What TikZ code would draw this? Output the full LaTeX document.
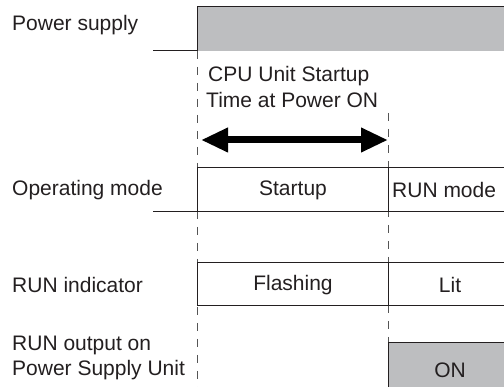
\documentclass[tikz,border=0pt]{standalone}
\usepackage{fontspec}
\setmainfont{Liberation Sans}
\usetikzlibrary{arrows.meta}
\definecolor{lineblk}{HTML}{231F20}
\definecolor{dashgray}{HTML}{555555}
\definecolor{sigfill}{HTML}{BDBEC0}
\tikzset{
  lbl/.style={anchor=west, inner sep=0pt, font=\fontsize{21}{25}\selectfont, text=lineblk},
  ctr/.style={inner sep=0pt, font=\fontsize{21}{25}\selectfont, text=lineblk},
  sig/.style={draw=lineblk, line width=1pt},
  guide/.style={draw=dashgray, line width=1pt, dash pattern=on 8pt off 8pt},
  span/.style={draw=black, line width=7pt, {Triangle[length=27pt,width=23pt]}-{Triangle[length=27pt,width=23pt]}}
}
\begin{document}
\begin{tikzpicture}[x=1pt,y=-1pt]
\useasboundingbox (0,0) rectangle (504,387);
% coordinates
\coordinate (L0) at (197,51);
\coordinate (L1) at (197,387);
\coordinate (R0) at (388,113);
\coordinate (R1) at (388,387);
\coordinate (A0) at (201,140);
\coordinate (A1) at (388,140);
% dashed guides
\draw[guide] (L0) -- (L1);
\draw[guide] (R0) -- (R1);
% power supply
\fill[sigfill] (197,7) rectangle (504,51);
\draw[sig] (153,51) -- (197,51) -- (197,7) -- (504,7);
% operating mode box
\draw[sig] (504,168) -- (197,168) -- (197,212);
\draw[sig] (153,212) -- (504,212);
\draw[sig] (388,168) -- (388,212);
% RUN indicator box
\draw[sig] (504,263) -- (197,263) -- (197,306) -- (504,306);
\draw[sig] (388,263) -- (388,306);
% RUN output
\fill[sigfill] (388,343) rectangle (504,387);
\draw[sig] (388,387) -- (388,343) -- (504,343);
% arrow
\draw[span] (A0) -- (A1);
% labels
\node[lbl] (ps) at (12,25) {Power supply};
\node[lbl] (cpu1) at (208,76) {CPU Unit Startup};
\node[lbl] (cpu2) at (206,100) {Time at Power ON};
\node[lbl] (om) at (12,190) {Operating mode};
\node[ctr] (su) at (293,190) {Startup};
\node[lbl] (rm) at (392,190) {RUN mode};
\node[lbl] (ri) at (12,285) {RUN indicator};
\node[ctr] (fl) at (293,285) {Flashing};
\node[ctr] (lit) at (450,285) {Lit};
\node[lbl] (ro1) at (12,345) {RUN output on};
\node[lbl] (ro2) at (12,370) {Power Supply Unit};
\node[ctr] (on) at (450,370) {ON};
\end{tikzpicture}
\end{document}
